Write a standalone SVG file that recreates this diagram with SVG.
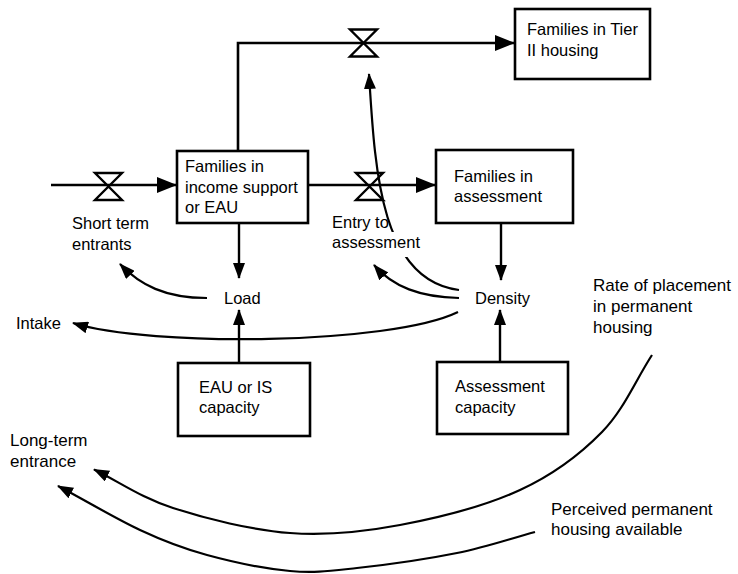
<svg xmlns="http://www.w3.org/2000/svg" width="738" height="574" viewBox="0 0 738 574">
<defs>
<style>
.box{fill:#fff;stroke:#000;stroke-width:2.6}
.flow{fill:none;stroke:#000;stroke-width:2.6}
.info{fill:none;stroke:#000;stroke-width:2.4}
.curve{fill:none;stroke:#000;stroke-width:2.2}
.valve{fill:none;stroke:#000;stroke-width:2.4;stroke-linejoin:miter}
text{font-family:"Liberation Sans",Arial,Helvetica,sans-serif;font-size:16.5px;fill:#000}
.big{font-size:17px}
</style>
<marker id="fa" markerUnits="userSpaceOnUse" markerWidth="20" markerHeight="16" viewBox="0 0 20 16" refX="19" refY="8" orient="auto"><path d="M0,0 L20,8 L0,16 Z" fill="#000"/></marker>
<marker id="ia" markerUnits="userSpaceOnUse" markerWidth="16" markerHeight="12" viewBox="0 0 16 12" refX="15" refY="6" orient="auto"><path d="M0,0 L16,6 L0,12 Z" fill="#000"/></marker>
</defs>
<rect width="738" height="574" fill="#fff"/>
<g id="connectors">
<path class="flow" d="M51,185 H176" marker-end="url(#fa)"/>
<path class="flow" d="M308,185 H435" marker-end="url(#fa)"/>
<path class="flow" d="M238,151 V43 H514" marker-end="url(#fa)"/>
<path class="info" d="M239,223 V278" marker-end="url(#ia)"/>
<path class="info" d="M501,223 V280" marker-end="url(#ia)"/>
<path class="info" d="M239,363 V310" marker-end="url(#ia)"/>
<path class="info" d="M500,361 V310" marker-end="url(#ia)"/>
<path class="curve" d="M459,290 C380,280 375,170 369,74" marker-end="url(#ia)"/>
<path class="curve" d="M459,298 C420,297 393,287 374,265" marker-end="url(#ia)"/>
<path class="curve" d="M207,298 C165,298 140,285 120,264" marker-end="url(#ia)"/>
<path class="curve" d="M458,312 C390,345 150,347 73,323" marker-end="url(#ia)"/>
<path class="curve" d="M652,355 C635.3,380.7 624,409.5 602,432 C580,454.5 553.7,474.5 520,490 C486.3,505.5 438.3,517.8 400,525 C361.7,532.2 327.8,535.8 290,533 C252.2,530.2 205.8,518.7 173,508 C140.2,497.3 119.7,482 94,469.5" marker-end="url(#ia)"/>
<path class="curve" d="M535,532 C509,539 486.7,547 457,553 C427.3,559 384.8,565 357,568 C329.2,571 315,573.2 290,571 C265,568.8 232,561.8 207,555 C182,548.2 165,541.7 140,530 C115,518.3 84.7,500 58,486" marker-end="url(#ia)"/>
</g>
<g id="families-income-support">
<rect class="box" x="177" y="151" width="131" height="72"/>
<text x="185" y="171.5">Families in</text>
<text x="185" y="192.5">income support</text>
<text x="185" y="213">or EAU</text>
</g>
<g id="families-tier-ii">
<rect class="box" x="515" y="9" width="135" height="70"/>
<text x="527" y="35">Families in Tier</text>
<text x="527" y="56">II housing</text>
</g>
<g id="families-assessment">
<rect class="box" x="436" y="150" width="137" height="73"/>
<text x="454" y="182">Families in</text>
<text x="454" y="202">assessment</text>
</g>
<g id="eau-is-capacity">
<rect class="box" x="178" y="363" width="132" height="73"/>
<text x="199" y="393">EAU or IS</text>
<text x="199" y="413">capacity</text>
</g>
<g id="assessment-capacity">
<rect class="box" x="437" y="362" width="131" height="72"/>
<text x="455" y="392">Assessment</text>
<text x="455" y="413">capacity</text>
</g>
<g id="short-term-entrants">
<path class="valve" d="M95,173 H122 L95,200 H122 Z"/>
<text x="72" y="229">Short term</text>
<text x="72" y="250">entrants</text>
</g>
<g id="entry-to-assessment">
<path class="valve" d="M356,173 H383 L356,200 H383 Z"/>
<rect x="330" y="232" width="92" height="25" fill="#fff"/>
<text x="332" y="228">Entry to</text>
<text x="332" y="248">assessment</text>
</g>
<g id="tier-ii-valve">
<path class="valve" d="M350,29.5 H377 L350,56.5 H377 Z"/>
</g>
<g id="load"><text x="224" y="304">Load</text></g>
<g id="density"><text x="475" y="304">Density</text></g>
<g id="intake"><text x="16" y="328.5">Intake</text></g>
<g id="rate-of-placement">
<text class="big" x="593" y="291">Rate of placement</text>
<text class="big" x="593" y="312">in permanent</text>
<text class="big" x="593" y="333">housing</text>
</g>
<g id="long-term-entrance">
<text class="big" x="10" y="446">Long-term</text>
<text class="big" x="10" y="467">entrance</text>
</g>
<g id="perceived-housing">
<text class="big" x="551" y="515">Perceived permanent</text>
<text class="big" x="551" y="535">housing available</text>
</g>
</svg>
